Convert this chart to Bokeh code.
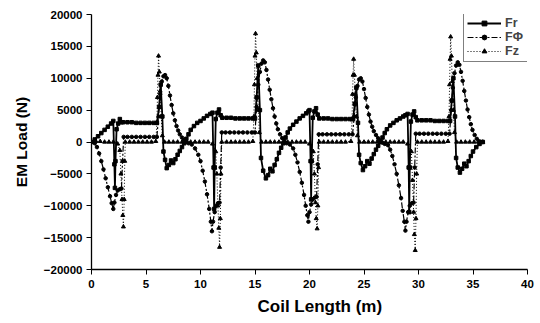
from bokeh.plotting import figure
from bokeh.models import Legend, LegendItem, Range1d, Title
from bokeh.embed import file_html
from bokeh.resources import INLINE

# Coil length (m) and EM load (N)
fr_x = [0, 0.3, 0.6, 0.9, 1.2, 1.5, 1.8, 2.0, 2.1, 2.15, 2.2, 2.3, 2.45, 2.6, 2.75, 2.9, 3.3, 3.7, 4.1, 4.5, 4.9, 5.3, 5.7, 6.0,
        6.2, 6.35, 6.5, 6.6, 6.75, 6.9, 7.1, 7.3, 7.5, 7.7, 7.9, 8.1, 8.3, 8.5, 8.7, 8.9,
        9.1, 9.4, 9.7, 10.0, 10.3, 10.6, 10.9, 11.1, 11.2, 11.25, 11.3, 11.4, 11.55, 11.7, 11.85, 12.0, 12.4, 12.8, 13.2, 13.6,
        14.0, 14.4, 14.8, 15.0, 15.15, 15.3, 15.45, 15.55, 15.75, 16.0, 16.2, 16.4, 16.6, 16.8, 17.0, 17.2, 17.4, 17.6, 17.8, 18.0,
        18.2, 18.5, 18.8, 19.1, 19.4, 19.7, 19.9, 20.0, 20.1, 20.15, 20.2, 20.3, 20.45, 20.6, 20.75, 20.9, 21.3, 21.7, 22.1, 22.5,
        22.9, 23.3, 23.7, 24.0, 24.15, 24.3, 24.45, 24.55, 24.7, 24.9, 25.1, 25.3, 25.5, 25.7, 25.9, 26.1, 26.3, 26.5, 26.7, 26.9,
        27.1, 27.4, 27.7, 28.0, 28.3, 28.6, 28.8, 29.0, 29.1, 29.15, 29.2, 29.3, 29.45, 29.6, 29.75, 29.9, 30.3, 30.7, 31.1, 31.5,
        31.9, 32.3, 32.7, 32.9, 33.05, 33.2, 33.35, 33.45, 33.6, 33.8, 34.0, 34.2, 34.4, 34.6, 34.8, 35.0, 35.3, 35.6, 35.9]
fr_y = [0, 400, 900, 1400, 1900, 2400, 2900, 3300, -3500, -7200, -3000, 2000, 2900, 3600, 3100, 3100, 3100, 3100, 3000, 3000, 3000, 3000, 3000, 3000,
        5500, 9000, 4000, -1500, -2800, -4100, -3600, -2900, -3300, -2700, -2000, -1400, -800, -200, 500, 1200,
        1900, 2500, 3000, 3300, 3700, 4100, 4400, 4600, -4000, -10500, -4000, 3600, 4600, 5100, 4200, 3800, 3800, 3800, 3700, 3700,
        3700, 3700, 3700, 3700, 7000, 12000, 5000, -2500, -4500, -5700, -5200, -4200, -4600, -3600, -2700, -1700, -900, -200, 700, 1500,
        2100, 2700, 3200, 3700, 4100, 4500, 4800, 5000, -3000, -9000, -3000, 3800, 4800, 5300, 4300, 3700, 3700, 3700, 3600, 3600,
        3600, 3600, 3600, 3600, 6000, 8500, 3000, -2000, -3300, -4400, -3800, -3000, -3400, -2600, -1900, -1200, -600, 0, 700, 1400,
        2000, 2600, 3000, 3400, 3700, 4000, 4200, 4400, -4000, -11000, -4000, 3200, 4300, 4800, 3900, 3400, 3400, 3400, 3400, 3300,
        3300, 3300, 3300, 3300, 6500, 10000, 4000, -2500, -4000, -4800, -4200, -3400, -3800, -3000, -2200, -1500, -800, -300, 0]

fphi_x = [0, 0.3, 0.5, 0.7, 0.9, 1.1, 1.3, 1.5, 1.7, 1.85, 2.0, 2.1, 2.25, 2.4, 2.6, 2.75, 2.85, 2.95, 3.3, 3.7, 4.1, 4.5, 4.9, 5.3,
          5.7, 6.0, 6.15, 6.3, 6.45, 6.6, 6.75, 6.9, 7.05, 7.2, 7.35, 7.5, 7.65, 7.8, 7.95, 8.1, 8.3, 8.5, 8.7, 8.9,
          9.2, 9.5, 9.8, 10.0, 10.2, 10.4, 10.6, 10.8, 10.95, 11.05, 11.15, 11.3, 11.45, 11.6, 11.75, 11.85, 11.95, 12.3, 12.7, 13.1,
          13.5, 13.9, 14.3, 14.7, 15.0, 15.15, 15.3, 15.45, 15.6, 15.75, 15.9, 16.05, 16.2, 16.35, 16.5, 16.65, 16.8, 16.95, 17.1, 17.3,
          17.5, 17.7, 17.9,
          18.2, 18.5, 18.7, 18.9, 19.1, 19.3, 19.5, 19.65, 19.8, 19.9, 20.0, 20.15, 20.3, 20.5, 20.65, 20.75, 20.85, 21.2, 21.6, 22.0,
          22.4, 22.8, 23.2, 23.6, 23.95, 24.1, 24.25, 24.4, 24.55, 24.7, 24.85, 25.0, 25.15, 25.3, 25.45, 25.6, 25.75, 25.9, 26.1, 26.3,
          26.5, 26.7, 26.9,
          27.2, 27.4, 27.6, 27.8, 28.0, 28.2, 28.4, 28.55, 28.7, 28.8, 28.9, 29.05, 29.2, 29.4, 29.55, 29.65, 29.75, 30.1, 30.5, 30.9,
          31.3, 31.7, 32.1, 32.5, 32.85, 33.0, 33.15, 33.3, 33.45, 33.6, 33.75, 33.9, 34.05, 34.2, 34.35, 34.5, 34.65, 34.8, 34.95, 35.15,
          35.35, 35.6, 35.9]
fphi_y = [0, -200, -800, -1800, -3000, -4300, -5700, -7100, -8500, -9600, -10500, -9500, -8300, -7600, -7400, -7300, -3000, 800, 800, 800, 800, 800, 800, 800,
          800, 800, 4000, 7500, 9500, 10300, 10500, 10000, 8800, 7300, 5800, 4500, 3400, 2500, 1800, 1200, 700, 300, 0, -200,
          -400, -1000, -2000, -3000, -4500, -6200, -8200, -10500, -12500, -14000, -12500, -11000, -10000, -9600, -9500, -4000, 1500, 1500, 1500, 1500,
          1500, 1500, 1500, 1500, 1500, 5500, 9000, 11000, 12300, 12800, 12500, 11300, 9800, 8200, 6700, 5300, 4000, 2900, 2000, 1200,
          600, 100, -200,
          -400, -1000, -2000, -3200, -4700, -6400, -8300, -10000, -11500, -12500, -11000, -9800, -9000, -8700, -8600, -3500, 1200, 1200, 1200, 1200,
          1200, 1200, 1200, 1200, 1200, 4000, 7000, 8800, 9800, 10000, 9500, 8300, 6900, 5500, 4300, 3200, 2400, 1700, 1100, 600,
          200, -100, -300,
          -500, -1200, -2200, -3500, -5000, -6800, -8800, -10800, -12500, -13900, -12500, -11000, -10000, -9600, -9500, -4000, 1300, 1300, 1300, 1300,
          1300, 1300, 1300, 1300, 1300, 5000, 8500, 10800, 12000, 12500, 12100, 11000, 9600, 8000, 6500, 5100, 3900, 2800, 1900, 1100,
          500, 100, 0]

fz_x = [0, 0.4, 0.8, 1.2, 1.6, 2.0, 2.4, 2.6, 2.7, 2.8, 2.87, 2.93, 3.0, 3.05, 3.1, 3.5, 3.9, 4.3, 4.7, 5.1, 5.5, 5.9,
        6.0, 6.05, 6.1, 6.15, 6.22, 6.3, 6.4, 6.5, 6.7, 7.1, 7.5, 7.9, 8.3, 8.7,
        9.1, 9.5, 9.9, 10.3, 10.7, 11.1, 11.4, 11.5, 11.6, 11.68, 11.75, 11.82, 11.88, 11.95, 12.4, 12.8, 13.2, 13.6, 14.0, 14.4, 14.8,
        14.9, 14.95, 15.0, 15.05, 15.12, 15.2, 15.3, 15.4, 15.6, 16.0, 16.4, 16.8, 17.2, 17.6,
        18.0, 18.4, 18.8, 19.2, 19.6, 20.0, 20.35, 20.45, 20.55, 20.62, 20.7, 20.77, 20.83, 20.9, 21.3, 21.7, 22.1, 22.5, 22.9, 23.3, 23.8,
        23.9, 23.95, 24.0, 24.05, 24.12, 24.2, 24.3, 24.4, 24.6, 25.0, 25.4, 25.8, 26.2, 26.6,
        27.0, 27.4, 27.8, 28.2, 28.6, 29.0, 29.35, 29.45, 29.55, 29.62, 29.7, 29.77, 29.83, 29.9, 30.3, 30.7, 31.1, 31.5, 31.9, 32.3, 32.7,
        32.8, 32.85, 32.9, 32.95, 33.02, 33.1, 33.2, 33.3, 33.5, 33.9, 34.3, 34.7, 35.1, 35.5, 35.9]
fz_y = [0, 100, 100, 0, 0, 0, -300, -1300, -5000, -9000, -11500, -13300, -9000, -3000, 0, 0, 0, 0, 0, 0, 0, 100,
        3000, 7000, 10500, 13500, 11000, 8000, 4000, 1000, 0, 0, 0, 0, 0, 0,
        0, 0, 0, 0, 0, -300, -1500, -5000, -10000, -13500, -16500, -12000, -5000, 0, 0, 0, 0, 0, 0, 0, 100,
        4000, 9000, 13500, 17000, 14000, 10000, 5000, 1500, 0, 0, 0, 0, 0, 0,
        0, 0, 0, 0, 0, -300, -1500, -5000, -9500, -12000, -13600, -10000, -4000, 0, 0, 0, 0, 0, 0, 0, 100,
        3500, 7500, 10500, 13000, 10500, 7500, 4000, 1000, 0, 0, 0, 0, 0, 0,
        0, 0, 0, 0, 0, -300, -1500, -6000, -11000, -14500, -17000, -12000, -5000, 0, 0, 0, 0, 0, 0, 0, 100,
        4000, 9000, 13000, 16500, 13500, 9500, 5000, 1500, 0, 0, 0, 0, 0, 0, 0]

series_labels = ["Fr", "F\u03a6", "Fz"]
x_ticks = [0, 5, 10, 15, 20, 25, 30, 35, 40]
y_ticks = [-20000, -15000, -10000, -5000, 0, 5000, 10000, 15000, 20000]

FONT = "Liberation Sans"

p = figure(width=540, height=323, output_backend="svg", toolbar_location=None,
           x_range=Range1d(0, 40), y_range=Range1d(-20000, 20000),
           min_border_left=91, min_border_right=13, min_border_top=14, min_border_bottom=54)
p.outline_line_color = None
p.xgrid.grid_line_color = None
p.ygrid.grid_line_color = None
p.background_fill_color = "white"

for ax in (p.xaxis[0], p.yaxis[0]):
    ax.axis_line_color = "black"
    ax.axis_line_width = 1.3
    ax.major_tick_line_color = "black"
    ax.minor_tick_line_color = "black"
    ax.major_tick_out = 5
    ax.major_tick_in = 0
    ax.minor_tick_out = 3
    ax.minor_tick_in = 0
    ax.major_label_text_font = FONT
    ax.major_label_text_font_style = "bold"
    ax.major_label_text_font_size = "11.5px"
    ax.major_label_text_color = "black"
    ax.axis_label_text_font = FONT
    ax.axis_label_text_font_style = "bold"
    ax.axis_label_text_color = "black"

p.xaxis.ticker = x_ticks
p.yaxis.ticker = y_ticks
p.xaxis[0].ticker.num_minor_ticks = 2
p.yaxis[0].ticker.num_minor_ticks = 2
p.yaxis.axis_label = "EM Load (N)"
p.yaxis.axis_label_text_font_size = "15.5px"
p.xaxis.major_label_standoff = 5
p.yaxis.major_label_standoff = 4
p.yaxis.axis_label_standoff = 11

xlab = Title(text="Coil Length (m)", align="left", offset=166, standoff=9,
             text_font=FONT, text_font_style="bold", text_font_size="17px", text_color="black")
p.add_layout(xlab, "below")

l1 = p.line(fr_x, fr_y, line_color="black", line_width=1.8)
s1 = p.scatter(fr_x, fr_y, marker="square", size=3.5, color="black")
l2 = p.line(fphi_x, fphi_y, line_color="black", line_width=1.2, line_dash="6 2 2 2")
s2 = p.scatter(fphi_x, fphi_y, marker="circle", size=3.5, color="black")
l3 = p.line(fz_x, fz_y, line_color="black", line_width=1.0, line_dash="1 2")
s3 = p.scatter(fz_x, fz_y, marker="triangle", size=4, color="black")

legend = Legend(items=[LegendItem(label=series_labels[0], renderers=[l1, s1]),
                       LegendItem(label=series_labels[1], renderers=[l2, s2]),
                       LegendItem(label=series_labels[2], renderers=[l3, s3])],
                location=(372, 207))
legend.label_text_font = FONT
legend.label_text_font_style = "bold"
legend.label_text_font_size = "12.5px"
legend.glyph_width = 34
legend.glyph_height = 12
legend.spacing = 0
legend.padding = 3
legend.margin = 0
legend.label_standoff = 4
legend.label_height = 12
legend.border_line_color = "black"
legend.border_line_width = 1.5
legend.background_fill_alpha = 1
p.add_layout(legend, "center")

open("out.html", "w").write(file_html(p, INLINE))
